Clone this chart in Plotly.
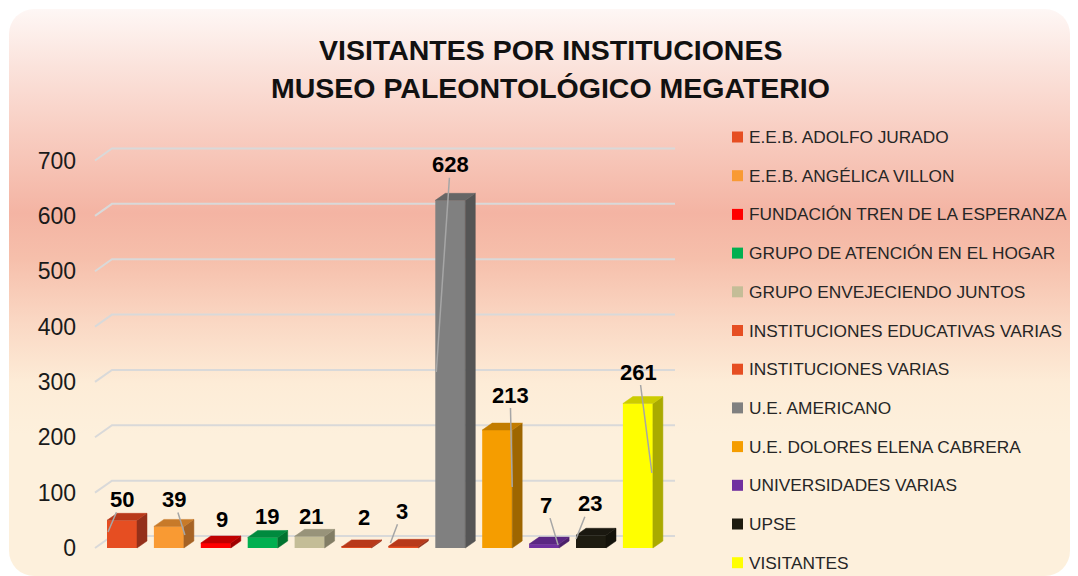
import base64
import plotly.graph_objects as go

# ---------------- data ----------------
categories = [
    "E.E.B. ADOLFO JURADO",
    "E.E.B. ANGÉLICA VILLON",
    "FUNDACIÓN TREN DE LA ESPERANZA",
    "GRUPO DE ATENCIÓN EN EL HOGAR",
    "GRUPO ENVEJECIENDO JUNTOS",
    "INSTITUCIONES EDUCATIVAS VARIAS",
    "INSTITUCIONES VARIAS",
    "U.E. AMERICANO",
    "U.E. DOLORES ELENA CABRERA",
    "UNIVERSIDADES VARIAS",
    "UPSE",
    "VISITANTES",
]
visitors = [50, 39, 9, 19, 21, 2, 3, 628, 213, 7, 23, 261]
y_tick_values = [0, 100, 200, 300, 400, 500, 600, 700]
y_tick_labels = ["0", "100", "200", "300", "400", "500", "600", "700"]
title_lines = ["VISITANTES POR INSTITUCIONES", "MUSEO PALEONTOLÓGICO MEGATERIO"]

# ---------------- styles ----------------
front_colors = ["#E64E22", "#F99A33", "#FF0000", "#00B050", "#C4BD97", "#E64E22",
                "#E64E22", "#808080", "#F59D00", "#7030A0", "#1E1C11", "#FFFF00"]
top_colors = ["#B8391A", "#C77A29", "#C00000", "#008A3E", "#98937A", "#B8391A",
              "#B8391A", "#666666", "#C27C00", "#5B2783", "#1A1810", "#CCCC00"]
side_colors = ["#94301A", "#A66325", "#A00000", "#00732F", "#827D65", "#94301A",
               "#94301A", "#555555", "#9E6600", "#4A1F6B", "#14130B", "#AAAA00"]
legend_colors = ["#E64E22", "#F99A33", "#FF0000", "#00B050", "#C4BD97", "#E64E22",
                 "#E64E22", "#808080", "#F59D00", "#7030A0", "#1D1B10", "#FFFF00"]
# label text offsets: (px right of bar centre, px above bar top)
label_offsets = [(0, 21), (5, 27), (6, 24), (4, 21), (1.5, 20), (7.5, 29),
                 (-1, 35), (0, 35.6), (13, 35), (2, 39), (-1, 31.6), (1, 31.5)]
# leader line heads: index -> (px right of bar centre, px above floor)
leader_heads = {0: (-14, 16), 1: (16, 13), 6: (-13, 5), 7: (-14, 176),
                8: (15, 61), 9: (14, 3), 10: (-15, 9), 11: (14, 75)}

W, H = 1078, 576
X_DOM_PX = (80, 690)
Y_DOM_PX = (130, 560)      # top, bottom
PX_PER_X = 46.9
PX_PER_Y = 0.5536
FIRST_BAR_PX = 122
ZERO_PX = 548

xmin = -(FIRST_BAR_PX - X_DOM_PX[0]) / PX_PER_X
xmax = xmin + (X_DOM_PX[1] - X_DOM_PX[0]) / PX_PER_X
ymin = -(Y_DOM_PX[1] - ZERO_PX) / PX_PER_Y
ymax = (ZERO_PX - Y_DOM_PX[0]) / PX_PER_Y

BW = 30 / PX_PER_X          # bar front width
BDX = 10 / PX_PER_X         # bar depth (x)
BDY = 7 / PX_PER_Y          # bar depth (y)
GDX = 17 / PX_PER_X         # wall depth (x)
GDY = 12 / PX_PER_Y         # wall depth (y)
G_FRONT = xmin + (95 - X_DOM_PX[0]) / PX_PER_X
G_RIGHT = xmin + (675 - X_DOM_PX[0]) / PX_PER_X

FONT = "Liberation Sans, Arial, sans-serif"

fig = go.Figure()

# gridlines (perspective style)
shapes = []
for v in y_tick_values:
    shapes.append(dict(type="path", xref="x", yref="y", layer="below",
                       path=f"M{G_FRONT},{v} L{G_FRONT + GDX},{v + GDY} L{G_RIGHT},{v + GDY}",
                       line=dict(color="#D9D9D9", width=2)))

# bars (front faces)
for i, (name, v) in enumerate(zip(categories, visitors)):
    fig.add_trace(go.Bar(x=[i], y=[v], width=[BW], name=name,
                         marker=dict(color=front_colors[i], line=dict(width=0)),
                         showlegend=False, hovertemplate=f"{name}: %{{y}}<extra></extra>"))

# side and top faces
for i, v in enumerate(visitors):
    xr = i + BW / 2
    xl = i - BW / 2
    fig.add_trace(go.Scatter(x=[xr, xr + BDX, xr + BDX, xr, xr],
                             y=[0, BDY, v + BDY, v, 0],
                             fill="toself", fillcolor=side_colors[i], mode="lines",
                             line=dict(color=side_colors[i], width=0.5),
                             showlegend=False, hoverinfo="skip"))
    fig.add_trace(go.Scatter(x=[xl, xl + BDX, xr + BDX, xr, xl],
                             y=[v, v + BDY, v + BDY, v, v],
                             fill="toself", fillcolor=top_colors[i], mode="lines",
                             line=dict(color=top_colors[i], width=0.5),
                             showlegend=False, hoverinfo="skip"))

annotations = []
# data labels
for i, v in enumerate(visitors):
    tdx, tdy = label_offsets[i]
    tx = i + tdx / PX_PER_X
    ty = v + tdy / PX_PER_Y
    lab_font = dict(family=FONT, size=22, color="#000000", weight="bold")
    if i in leader_heads:
        hdx, hdy = leader_heads[i]
        annotations.append(dict(x=i + hdx / PX_PER_X, y=hdy / PX_PER_Y, xref="x", yref="y",
                                ax=tx, ay=ty, axref="x", ayref="y",
                                text=str(v), showarrow=True, arrowhead=0,
                                arrowwidth=1.5, arrowcolor="#A6A6A6",
                                standoff=0, startstandoff=0, font=lab_font,
                                borderpad=0))
    else:
        annotations.append(dict(x=tx, y=ty, xref="x", yref="y", text=str(v),
                                showarrow=False, font=lab_font,
                                xanchor="center", yanchor="middle"))

# title lines
for text, yc in zip(title_lines, [50, 88]):
    annotations.append(dict(x=550 / W, y=1 - yc / H, xref="paper", yref="paper",
                            text=text, showarrow=False, xanchor="center", yanchor="middle",
                            font=dict(family=FONT, size=28.5, color="#111111", weight="bold")))

# legend (manual, to match item spacing)
for k, name in enumerate(categories):
    yc = 137 + 38.7 * k
    shapes.append(dict(type="rect", xref="paper", yref="paper",
                       x0=732 / W, x1=743 / W, y0=1 - (yc + 5.5) / H, y1=1 - (yc - 5.5) / H,
                       fillcolor=legend_colors[k], line=dict(width=0)))
    annotations.append(dict(x=747 / W, y=1 - yc / H, xref="paper", yref="paper",
                            text=name, showarrow=False, xanchor="left", yanchor="middle",
                            font=dict(family=FONT, size=17.3, color="#262626")))

# background gradient card
svg = """<svg xmlns="http://www.w3.org/2000/svg" width="1078" height="576" viewBox="0 0 1078 576">
<defs><linearGradient id="g" x1="0" y1="0" x2="0" y2="1">
<stop offset="0" stop-color="#FEF7F5"/>
<stop offset="0.10" stop-color="#FBE3DC"/>
<stop offset="0.22" stop-color="#F8CDC1"/>
<stop offset="0.36" stop-color="#F4B4A3"/>
<stop offset="0.44" stop-color="#F6BFAB"/>
<stop offset="0.55" stop-color="#FAD7C3"/>
<stop offset="0.66" stop-color="#FDECD7"/>
<stop offset="0.75" stop-color="#FDF0DC"/>
<stop offset="1" stop-color="#FDF0DC"/>
</linearGradient></defs>
<rect x="9" y="9" width="1061" height="567" rx="25" ry="25" fill="url(#g)"/>
</svg>"""
src = "data:image/svg+xml;base64," + base64.b64encode(svg.encode("utf-8")).decode("ascii")

fig.update_layout(
    width=W, height=H, autosize=False,
    margin=dict(l=0, r=0, t=0, b=0),
    paper_bgcolor="#FFFFFF", plot_bgcolor="rgba(0,0,0,0)",
    barmode="overlay", showlegend=False,
    images=[dict(source=src, xref="paper", yref="paper", x=0, y=1, sizex=1, sizey=1,
                 xanchor="left", yanchor="top", sizing="stretch", layer="below")],
    shapes=shapes, annotations=annotations,
    xaxis=dict(domain=[X_DOM_PX[0] / W, X_DOM_PX[1] / W], range=[xmin, xmax],
               showgrid=False, zeroline=False, showline=False, showticklabels=False,
               fixedrange=True),
    yaxis=dict(domain=[1 - Y_DOM_PX[1] / H, 1 - Y_DOM_PX[0] / H], range=[ymin, ymax],
               showgrid=False, zeroline=False, showline=False, ticks="",
               tickvals=y_tick_values, ticktext=y_tick_labels,
               tickfont=dict(family=FONT, size=23, color="#1A1A1A"),
               ticklabelstandoff=3, fixedrange=True),
)

fig.write_html(
    "out.html",
    config={"displayModeBar": False},
    post_script="document.body.style.margin='0';document.body.style.padding='0';"
                "document.body.style.overflow='hidden';",
)
